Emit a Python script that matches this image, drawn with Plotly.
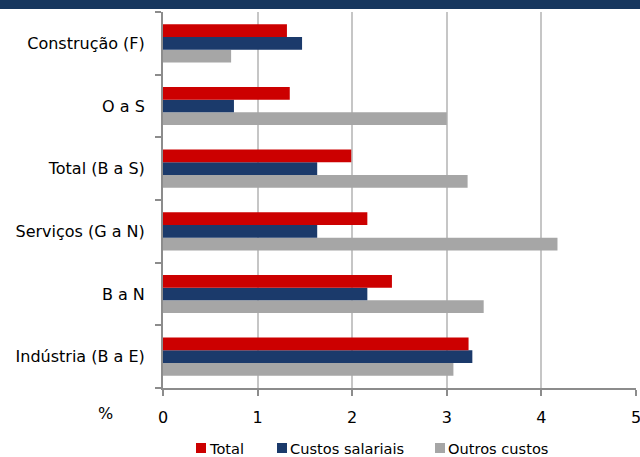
import plotly.graph_objects as go

categories = ["Indústria (B a E)", "B a N", "Serviços (G a N)", "Total (B a S)", "O a S", "Construção (F)"]
total = [3.23, 2.42, 2.16, 1.99, 1.34, 1.31]
custos_salariais = [3.27, 2.16, 1.63, 1.63, 0.75, 1.47]
outros_custos = [3.07, 3.39, 4.17, 3.22, 3.00, 0.72]
series_names = ["Total", "Custos salariais", "Outros custos"]
x_ticks = [0, 1, 2, 3, 4, 5]

FONT = "DejaVu Sans"
RED = "#CC0000"
BLUE = "#1B3A6B"
GREY = "#A6A6A6"
COLORS = [RED, BLUE, GREY]

W, H = 640, 457
ML, MR, MT, MB = 163, 4, 12, 69
PW, PH = W - ML - MR, H - MT - MB


def px_x(px):
    return (px - ML) / PW


def px_y(py):
    return (H - MB - py) / PH


fig = go.Figure()
# grouped horizontal bars: the last trace sits on top within each group
for name, vals, col in [(series_names[2], outros_custos, GREY),
                        (series_names[1], custos_salariais, BLUE),
                        (series_names[0], total, RED)]:
    fig.add_trace(go.Bar(y=categories, x=vals, name=name, orientation="h",
                         marker=dict(color=col, line=dict(width=0)),
                         showlegend=False))

fig.update_layout(
    width=W, height=H,
    margin=dict(l=ML, r=MR, t=MT, b=MB, autoexpand=False),
    paper_bgcolor="white", plot_bgcolor="white",
    barmode="group", bargap=0.39, bargroupgap=0,
    font=dict(family=FONT, size=16, color="#000000"),
    xaxis=dict(range=[0, 5], tickvals=x_ticks, ticktext=[str(v) for v in x_ticks],
               showgrid=True, gridcolor="#C6C6C6", gridwidth=2,
               showline=True, linecolor="#8C8C8C", linewidth=2,
               ticks="outside", ticklen=6, tickcolor="#8C8C8C", tickwidth=2,
               zeroline=False, tickfont=dict(size=16), ticklabelstandoff=8,
               ticklabeloverflow="allow", automargin=False),
    yaxis=dict(showgrid=False, showline=True, linecolor="#8C8C8C", linewidth=2,
               ticks="outside", ticklen=6, tickcolor="#8C8C8C", tickwidth=2,
               tickson="boundaries", zeroline=False, tickfont=dict(size=16),
               ticklabelstandoff=13, automargin=False),
)

# header band across the top of the page
fig.add_shape(type="rect", xref="paper", yref="paper",
              x0=px_x(-5), x1=px_x(W + 5), y0=px_y(9), y1=px_y(-5),
              fillcolor="#17375E", line=dict(width=0), layer="above")

# unit label next to the x tick labels
fig.add_annotation(text="%", xref="paper", yref="paper", x=px_x(105), y=px_y(413),
                   showarrow=False, font=dict(family=FONT, size=16),
                   xanchor="center", yanchor="middle")

# legend: small square swatch followed by the series name
legend_left = [196, 277, 435]
for name, col, left in zip(series_names, COLORS, legend_left):
    fig.add_shape(type="rect", xref="paper", yref="paper",
                  x0=px_x(left), x1=px_x(left + 10), y0=px_y(453), y1=px_y(443),
                  fillcolor=col, line=dict(width=0))
    fig.add_annotation(text=name, xref="paper", yref="paper",
                       x=px_x(left + 11), y=px_y(448), showarrow=False,
                       xanchor="left", yanchor="middle",
                       font=dict(family=FONT, size=14.6))

fig.write_html("out.html")
